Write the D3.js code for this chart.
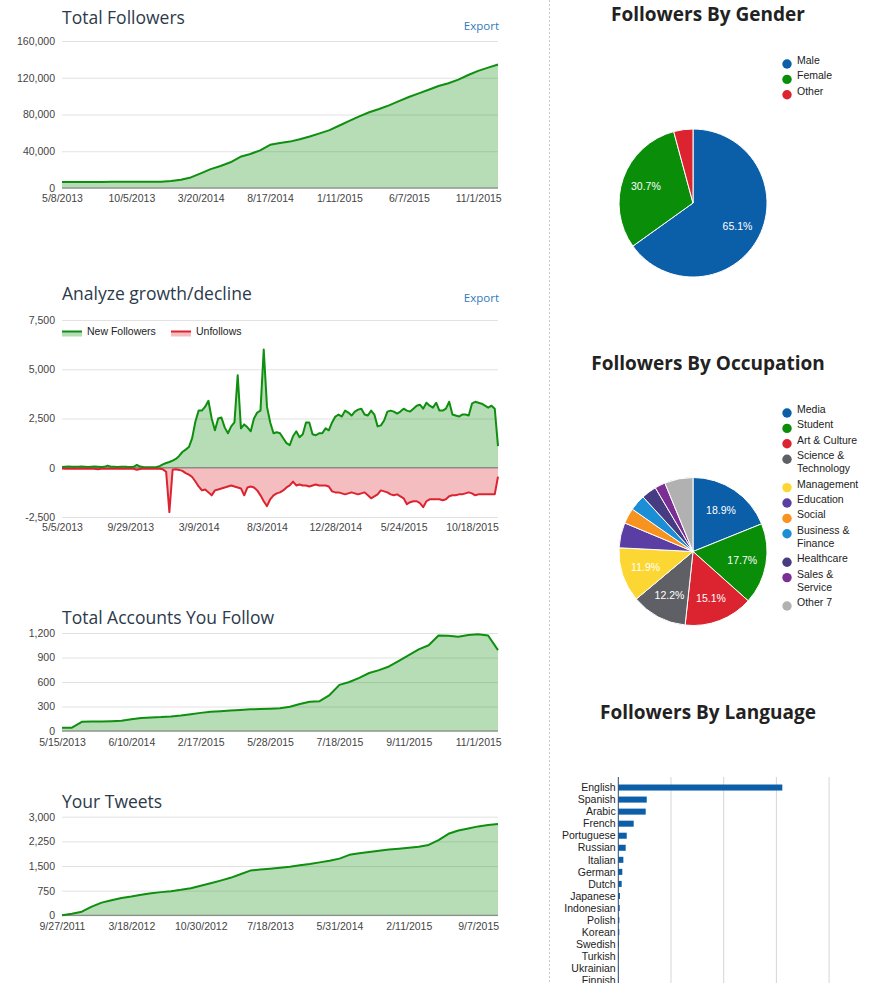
<!DOCTYPE html>
<html>
<head>
<meta charset="utf-8">
<script src="https://cdn.jsdelivr.net/npm/d3@7"></script>
<style>
  body { margin: 0; background: #fff; }
  svg { display: block; }
  .tick text { font-family: Arial, "Liberation Sans", sans-serif; font-size: 10.5px; fill: #444; }
  .title { font-family: "Open Sans", sans-serif; font-size: 17.5px; fill: #2c3a4b; }
  .heading { font-family: "Open Sans", sans-serif; font-weight: bold; font-size: 19px; fill: #222; }
  .export { font-family: "Open Sans", sans-serif; font-size: 11.5px; fill: #2e7bb8; }
  .small { font-family: Arial, "Liberation Sans", sans-serif; font-size: 10.5px; fill: #222; }
  .slice-label { font-family: Arial, "Liberation Sans", sans-serif; font-size: 10.5px; fill: #fff; }
</style>
</head>
<body>
<svg width="870" height="983"></svg>
<script>
// ---- data ----
var followersTicks = ['5/8/2013', '10/5/2013', '3/20/2014', '8/17/2014', '1/11/2015', '6/7/2015', '11/1/2015']
var followersY = [0, 40000, 80000, 120000, 160000]
var followersTotal = [6500, 6500, 6600, 6600, 6600, 6700, 6700, 6700, 6700, 6800, 6800, 7500, 9000, 11500, 16000,
    20500, 24000, 28000, 34000, 37000, 41000, 47000, 49000, 50500, 53000, 56000, 59500, 63000, 68000, 73000,
    78000, 82500, 86000, 90000, 94500, 99000, 103000, 107000, 111000, 114000, 118000, 123000, 127500, 131000, 134500]

var growthTicks = ['5/5/2013', '9/29/2013', '3/9/2014', '8/3/2014', '12/28/2014', '5/24/2015', '10/18/2015']
var growthY = [-2500, 0, 2500, 5000, 7500]
var newFollowers = [40, 50, 60, 50, 45, 55, 60, 50, 40, 50, 60, 50, 40, 45, 110, 50, 45, 40, 50, 55,
    45, 40, 50, 140, 60, 40, 30, 30, 30, 40, 80, 170, 240, 290, 360, 450, 600, 800, 920, 1050,
    1500, 2350, 2900, 2900, 3100, 3400, 2500, 1900, 2500, 2550, 2050, 1750, 2100, 2300, 4700, 2000, 2200, 2050, 1850, 2500,
    2800, 2900, 6000, 3100, 2300, 1750, 1800, 1750, 1500, 1250, 1150, 1600, 1850, 1550, 1700, 2300, 2300, 1700, 1650, 1750,
    1750, 2000, 1900, 2300, 2600, 2700, 2600, 2900, 2800, 2650, 2850, 2950, 3000, 2700, 2650, 2900, 2700, 2100, 2150, 2400,
    2850, 2900, 2850, 2750, 2850, 3000, 2900, 2850, 3000, 3150, 3200, 3000, 3300, 3150, 3050, 3300, 2900, 2900, 3000, 3350,
    2700, 2650, 2600, 2700, 2700, 2650, 3250, 3350, 3300, 3250, 3150, 3050, 3150, 3000, 1100]
var unfollows = [-40, -50, -45, -50, -40, -50, -45, -40, -50, -55, -50, -80, -50, -45, -50, -55, -50, -45, -40, -50,
    -45, -50, -55, -100, -60, -40, -45, -50, -50, -50, -50, -80, -200, -2250, -100, -80, -110, -160, -270, -350,
    -470, -700, -950, -1150, -1100, -1250, -1400, -1150, -1100, -1050, -1000, -950, -900, -950, -1000, -1050, -1400, -1000, -950, -1000,
    -1150, -1400, -1700, -1950, -1600, -1400, -1300, -1250, -1150, -1000, -900, -700, -900, -850, -900, -900, -950, -900, -850, -900,
    -900, -900, -950, -1200, -1250, -1250, -1300, -1350, -1300, -1250, -1300, -1350, -1300, -1250, -1400, -1550, -1450, -1350, -1150, -1200,
    -1250, -1350, -1400, -1350, -1450, -1550, -1850, -1750, -1700, -1700, -1800, -2000, -1700, -1600, -1600, -1600, -1600, -1650, -1600, -1450,
    -1400, -1400, -1350, -1350, -1300, -1250, -1300, -1400, -1350, -1350, -1350, -1350, -1350, -1350, -450]

var followingTicks = ['5/15/2013', '6/10/2014', '2/17/2015', '5/28/2015', '7/18/2015', '9/11/2015', '11/1/2015']
var followingY = [0, 300, 600, 900, 1200]
var followingTotal = [40, 40, 112, 115, 117, 120, 125, 145, 160, 165, 170, 178, 190, 205, 222,
    235, 242, 250, 257, 265, 268, 272, 278, 298, 330, 358, 365, 440, 565, 600,
    650, 710, 745, 790, 860, 930, 1000, 1050, 1170, 1165, 1155, 1175, 1185, 1170, 990]

var tweetTicks = ['9/27/2011', '3/18/2012', '10/30/2012', '7/18/2013', '5/31/2014', '2/11/2015', '9/7/2015']
var tweetY = [0, 750, 1500, 2250, 3000]
var tweetTotal = [0, 50, 110, 265, 385, 455, 525, 570, 625, 672, 705, 735, 775, 825, 900,
    975, 1055, 1140, 1250, 1360, 1395, 1420, 1450, 1480, 1520, 1560, 1610, 1660, 1725, 1840,
    1885, 1925, 1965, 2000, 2025, 2055, 2085, 2140, 2290, 2480, 2580, 2640, 2705, 2750, 2778]

var genderLabels = ['Male', 'Female', 'Other']
var genderValues = [65.1, 30.7, 4.2]
var genderColors = ['#0b5ea8', '#0a8e0a', '#dc2430']

var occupationLabels = ['Media', 'Student', 'Art & Culture', 'Science & Technology', 'Management', 'Education',
    'Social', 'Business & Finance', 'Healthcare', 'Sales & Service', 'Other 7']
var occupationValues = [18.9, 17.7, 15.1, 12.2, 11.9, 5.5, 3.4, 3.5, 3.3, 2.3, 6.2]
var occupationColors = ['#0b5ea8', '#0a8e0a', '#dc2430', '#5f6066', '#fcd733', '#5b3ea4',
    '#f7931e', '#1b8ed6', '#473c82', '#7b2e93', '#b1b1b1']

var languageLabels = ['English', 'Spanish', 'Arabic', 'French', 'Portuguese', 'Russian', 'Italian', 'German', 'Dutch',
    'Japanese', 'Indonesian', 'Polish', 'Korean', 'Swedish', 'Turkish', 'Ukrainian', 'Finnish']
var languageValues = [77800, 13500, 13000, 7300, 4000, 3500, 2400, 1900, 1600, 800, 660, 500, 470, 330, 240, 190, 140]
var languageGrid = [25000, 50000, 75000, 100000]

document.addEventListener('DOMContentLoaded', () => {
    var svg = d3.select('svg')
    var plotLeft = 62
    var plotRight = 498
    var green = '#0f8f0f'
    var red = '#dc2430'
    var fmt = d => d3.format(',')(d).replace('\u2212', '-')

    // separator between the two columns
    svg.append('line')
        .attr('x1', 549.5).attr('x2', 549.5)
        .attr('y1', 0).attr('y2', 983)
        .attr('stroke', '#c8c8c8')
        .attr('stroke-dasharray', '2,2')

    function timeChart(cfg) {
        var g = svg.append('g')
        var n = cfg.series[0].values.length
        var x = d3.scaleLinear().domain([0, n - 1]).range([plotLeft, plotRight])
        var y = d3.scaleLinear().domain(d3.extent(cfg.yTicks)).range([cfg.bottom, cfg.top])

        // gridlines and y labels
        g.append('g')
            .attr('transform', 'translate(' + plotLeft + ',0)')
            .call(d3.axisLeft(y)
                .tickValues(cfg.yTicks)
                .tickSize(-(plotRight - plotLeft))
                .tickPadding(7)
                .tickFormat(fmt))
            .call(a => a.select('.domain').remove())
            .call(a => a.selectAll('line').attr('stroke', '#e2e2e2'))

        // x labels, every cfg.step points
        g.append('g')
            .attr('transform', 'translate(0,' + cfg.bottom + ')')
            .call(d3.axisBottom(x)
                .tickValues(cfg.xTicks.map((t, i) => i * cfg.step))
                .tickFormat((d, i) => cfg.xTicks[i])
                .tickSize(0)
                .tickPadding(cfg.pad))
            .call(a => a.select('.domain').remove())

        cfg.series.forEach(s => {
            g.append('path')
                .datum(s.values)
                .attr('fill', s.color)
                .attr('fill-opacity', 0.3)
                .attr('d', d3.area().x((d, i) => x(i)).y0(y(0)).y1(d => y(d)))
        })

        // baseline
        g.append('line')
            .attr('x1', plotLeft).attr('x2', plotRight)
            .attr('y1', y(0)).attr('y2', y(0))
            .attr('stroke', '#777')

        cfg.series.forEach(s => {
            g.append('path')
                .datum(s.values)
                .attr('fill', 'none')
                .attr('stroke', s.color)
                .attr('stroke-width', 2)
                .attr('stroke-linejoin', 'round')
                .attr('d', d3.line().x((d, i) => x(i)).y(d => y(d)))
        })

        g.append('text')
            .classed('title', true)
            .text(cfg.title)
            .attr('x', plotLeft)
            .attr('y', cfg.titleY)

        if (cfg.exportY) {
            g.append('text')
                .classed('export', true)
                .text('Export')
                .attr('text-anchor', 'end')
                .attr('x', 499)
                .attr('y', cfg.exportY)
        }
        return g
    }

    timeChart({ title: 'Total Followers', titleY: 24, exportY: 30, top: 41, bottom: 188, pad: 6.5,
        yTicks: followersY, xTicks: followersTicks, step: 7,
        series: [{ values: followersTotal, color: green }] })

    var growth = timeChart({ title: 'Analyze growth/decline', titleY: 300, exportY: 302, top: 320, bottom: 517, pad: 6.5,
        yTicks: growthY, xTicks: growthTicks, step: 21,
        series: [{ values: newFollowers, color: green }, { values: unfollows, color: red }] })

    // legend of the growth chart
    var legend = [{ name: 'New Followers', color: green, x: 62 }, { name: 'Unfollows', color: red, x: 171 }]
    legend.forEach(l => {
        growth.append('rect')
            .attr('x', l.x).attr('y', 331.5)
            .attr('width', 20).attr('height', 5)
            .attr('fill', l.color).attr('fill-opacity', 0.3)
        growth.append('line')
            .attr('x1', l.x).attr('x2', l.x + 20)
            .attr('y1', 331.5).attr('y2', 331.5)
            .attr('stroke', l.color).attr('stroke-width', 2)
        growth.append('text')
            .classed('small', true)
            .text(l.name)
            .attr('x', l.x + 25)
            .attr('y', 335)
    })

    timeChart({ title: 'Total Accounts You Follow', titleY: 624, top: 633, bottom: 731, pad: 8,
        yTicks: followingY, xTicks: followingTicks, step: 7,
        series: [{ values: followingTotal, color: green }] })

    timeChart({ title: 'Your Tweets', titleY: 807.5, top: 816.7, bottom: 915.3, pad: 7.5,
        yTicks: tweetY, xTicks: tweetTicks, step: 7,
        series: [{ values: tweetTotal, color: green }] })

    // ---- pies ----
    function pieChart(cfg) {
        var g = svg.append('g')
        var radius = 74
        var pie = d3.pie().sort(null)
        var arc = d3.arc().innerRadius(0).outerRadius(radius)
        var labelArc = d3.arc().innerRadius(50).outerRadius(50)
        var slices = g.append('g')
            .attr('transform', 'translate(' + cfg.cx + ',' + cfg.cy + ')')
            .selectAll('g')
            .data(pie(cfg.values))
            .enter()
            .append('g')

        slices.append('path')
            .attr('d', arc)
            .attr('fill', (d, i) => cfg.colors[i])
            .attr('stroke', '#fff')
            .attr('stroke-width', 1)

        slices.filter(d => d.data >= 10)
            .append('text')
            .classed('slice-label', true)
            .text(d => d.data.toFixed(1) + '%')
            .attr('text-anchor', 'middle')
            .attr('dy', '0.35em')
            .attr('transform', d => 'translate(' + labelArc.centroid(d) + ')')

        g.append('text')
            .classed('heading', true)
            .text(cfg.title)
            .attr('text-anchor', 'middle')
            .attr('x', 708)
            .attr('y', cfg.titleY)

        var ly = cfg.legendY
        cfg.labels.forEach((name, i) => {
            var lines = name.length > 13 ? [name.slice(0, name.indexOf('&') + 1), name.slice(name.indexOf('&') + 2)] : [name]
            g.append('circle')
                .attr('cx', 787).attr('cy', ly)
                .attr('r', 4.7)
                .attr('fill', cfg.colors[i])
            var t = g.append('text')
                .classed('small', true)
                .attr('x', 797)
                .attr('y', ly)
                .attr('dy', '0.35em')
            lines.forEach((line, j) => {
                t.append('tspan')
                    .attr('x', 797)
                    .attr('dy', j === 0 ? 0 : 13)
                    .text(line)
            })
            ly += 15.4 + (lines.length - 1) * 13
        })
    }

    pieChart({ title: 'Followers By Gender', titleY: 21, cx: 693, cy: 203, legendY: 64,
        labels: genderLabels, values: genderValues, colors: genderColors })

    pieChart({ title: 'Followers By Occupation', titleY: 369.5, cx: 693, cy: 551.5, legendY: 413,
        labels: occupationLabels, values: occupationValues, colors: occupationColors })

    // ---- language bars ----
    var barLeft = 618.3
    var xBar = d3.scaleLinear().domain([0, 25000]).range([barLeft, barLeft + 52.7])
    var yBar = d3.scaleBand()
        .domain(languageLabels)
        .range([781.5, 781.5 + 12.05 * languageLabels.length])
        .paddingInner(0.5)
        .paddingOuter(0.25)

    svg.append('text')
        .classed('heading', true)
        .text('Followers By Language')
        .attr('text-anchor', 'middle')
        .attr('x', 708)
        .attr('y', 719)

    svg.selectAll('.lang-grid')
        .data(languageGrid)
        .enter()
        .append('line')
            .attr('x1', d => xBar(d)).attr('x2', d => xBar(d))
            .attr('y1', 777).attr('y2', 990)
            .attr('stroke', '#d6d6d6')

    svg.selectAll('.lang-bar')
        .data(languageValues)
        .enter()
        .append('rect')
            .attr('x', barLeft)
            .attr('y', (d, i) => yBar(languageLabels[i]))
            .attr('width', d => xBar(d) - barLeft)
            .attr('height', yBar.bandwidth())
            .attr('fill', '#0b5ea8')

    svg.append('line')
        .attr('x1', barLeft).attr('x2', barLeft)
        .attr('y1', 777).attr('y2', 990)
        .attr('stroke', '#2c4a70')

    svg.selectAll('.lang-label')
        .data(languageLabels)
        .enter()
        .append('text')
            .classed('small', true)
            .text(d => d)
            .attr('text-anchor', 'end')
            .attr('x', 615.7)
            .attr('y', d => yBar(d) + yBar.bandwidth() / 2)
            .attr('dy', '0.35em')
})
</script>
</body>
</html>
